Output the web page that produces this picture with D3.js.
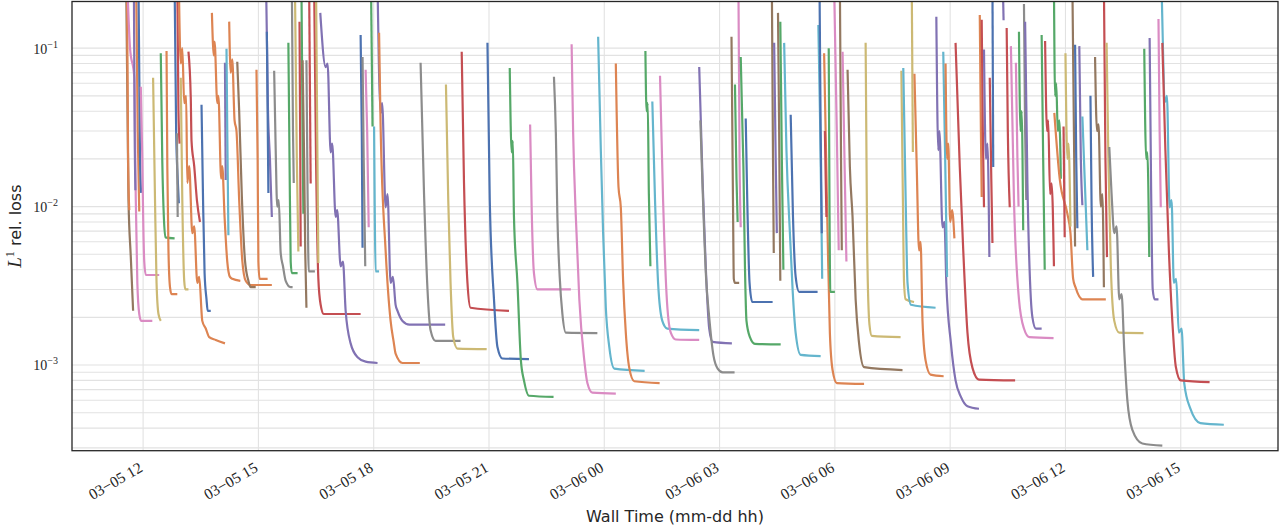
<!DOCTYPE html>
<html>
<head>
<meta charset="utf-8">
<script src="https://cdn.jsdelivr.net/npm/d3@7"></script>
<style>
  body { margin: 0; background: #fff; }
  svg { display: block; }
</style>
</head>
<body>
<svg id="chart" width="1285" height="528"></svg>
<script>
// each run: [hours since 03-05 00:00, L1 relative loss]
var blueRuns = [
  [[11.88,0.25],[11.92,0.02],[11.95,0.0122]],
  [[12.82,0.25],[12.86,0.03],[12.90,0.015],[12.93,0.0105]],
  [[13.52,0.044],[13.56,0.011],[13.60,0.0038],[13.65,0.0026],[13.68,0.0022],[13.76,0.0022]],
  [[15.22,0.127],[15.24,0.04],[15.26,0.0122]],
  [[17.66,0.121],[17.69,0.03],[17.71,0.0055]],
  [[20.96,0.108],[21.02,0.011],[21.13,0.0026],[21.22,0.0013],[21.35,0.0011],[22.04,0.00109]],
  [[27.68,0.036],[27.72,0.011],[27.78,0.0033],[27.85,0.0025],[28.38,0.0025]],
  [[28.85,0.038],[28.91,0.0086],[28.98,0.0036],[29.07,0.0029],[29.55,0.0029]],
  [[29.60,0.25],[29.63,0.03],[29.66,0.0068]],
  [[34.10,0.25],[34.12,0.0178]],
  [[36.25,0.105],[36.28,0.02],[36.31,0.0073]],
  [[36.65,0.05],[36.68,0.01],[36.72,0.0036]]
];
var orangeRuns = [
  [[11.58,0.25],[11.61,0.02],[11.64,0.0095]],
  [[11.82,0.25],[11.86,0.03],[11.90,0.0093]],
  [[12.61,0.096],[12.63,0.018],[12.66,0.0053],[12.70,0.0031],[12.74,0.0028],[12.89,0.0028]],
  [[12.93,0.25],[12.98,0.08],[13.02,0.1],[13.07,0.045],[13.12,0.05],[13.15,0.0141],[13.20,0.018],[13.28,0.0068],[13.33,0.0075],[13.41,0.0033],[13.46,0.0036],[13.54,0.0019],[13.63,0.0017],[13.72,0.0015],[13.89,0.00144],[14.13,0.00137]],
  [[13.79,0.167],[13.84,0.09],[13.86,0.11],[13.93,0.045],[13.96,0.05],[14.03,0.015],[14.06,0.018],[14.12,0.0086],[14.19,0.0045],[14.26,0.0036],[14.32,0.0035],[14.53,0.0034]],
  [[14.24,0.147],[14.28,0.07],[14.32,0.085],[14.38,0.035],[14.43,0.03],[14.50,0.011],[14.58,0.0046],[14.67,0.0034],[14.79,0.0032],[15.35,0.0032]],
  [[14.95,0.073],[14.98,0.02],[15.00,0.0045],[15.03,0.0035],[15.24,0.0035]],
  [[18.14,0.125],[18.18,0.032],[18.31,0.0053],[18.44,0.0019],[18.52,0.0014],[18.57,0.00118],[18.75,0.00103],[19.20,0.00103]],
  [[24.30,0.080],[24.37,0.0133],[24.43,0.0099],[24.49,0.0034],[24.56,0.0016],[24.65,0.00096],[24.78,0.00079],[25.44,0.00077]],
  [[29.72,0.093],[29.81,0.0068],[29.87,0.00159],[29.94,0.00093],[30.05,0.00077],[30.76,0.00076]],
  [[32.07,0.069],[32.13,0.0178],[32.19,0.0053],[32.23,0.006],[32.28,0.0019],[32.36,0.00107],[32.49,0.00087],[32.83,0.00085]],
  [[32.88,0.08],[32.92,0.02],[32.95,0.025],[33.00,0.008],[33.05,0.0095],[33.11,0.0063]],
  [[33.77,0.162],[33.80,0.03],[33.82,0.0115]],
  [[35.71,0.039],[35.85,0.015],[36.05,0.009],[36.13,0.0068],[36.20,0.0035],[36.26,0.0031],[36.44,0.0026],[37.05,0.0026]]
];
var greenRuns = [
  [[12.46,0.093],[12.50,0.019],[12.54,0.0086],[12.58,0.0064],[12.82,0.0063]],
  [[15.78,0.108],[15.81,0.02],[15.84,0.0045],[15.87,0.0038],[16.02,0.0038]],
  [[16.12,0.25],[16.15,0.028],[16.17,0.009]],
  [[17.93,0.25],[17.97,0.032]],
  [[21.54,0.075],[21.59,0.022],[21.62,0.026],[21.65,0.0086],[21.74,0.0033],[21.83,0.00107],[21.91,0.0008],[22.04,0.00064],[22.68,0.00063]],
  [[25.07,0.096],[25.10,0.04],[25.13,0.045],[25.16,0.012],[25.20,0.0042]],
  [[27.40,0.059],[27.44,0.015],[27.47,0.008]],
  [[27.55,0.088],[27.62,0.0178],[27.66,0.0042],[27.70,0.0019],[27.79,0.0015],[27.92,0.00136],[28.59,0.00135]],
  [[28.58,0.147],[28.62,0.02],[28.66,0.004]],
  [[29.84,0.1],[29.86,0.01],[29.88,0.0029],[30.00,0.0029]],
  [[34.79,0.127],[34.83,0.03],[34.86,0.04],[34.90,0.0071]],
  [[35.38,0.121],[35.42,0.02],[35.46,0.004]],
  [[35.70,0.25],[35.73,0.05],[35.76,0.06],[35.80,0.03],[35.84,0.035],[35.88,0.015]],
  [[38.05,0.099],[38.10,0.02],[38.13,0.022],[38.18,0.0048]]
];
var redRuns = [
  [[12.89,0.25],[12.92,0.04],[12.95,0.025]],
  [[13.18,0.095],[13.24,0.049],[13.26,0.026],[13.33,0.018],[13.40,0.011],[13.48,0.008]],
  [[16.07,0.147],[16.09,0.02],[16.10,0.0056]],
  [[16.32,0.25],[16.36,0.014]],
  [[16.45,0.25],[16.50,0.02],[16.56,0.0035],[16.62,0.0024],[16.70,0.0021],[17.66,0.0021]],
  [[20.29,0.095],[20.35,0.0141],[20.44,0.0033],[20.52,0.0023],[21.52,0.0022]],
  [[29.74,0.03],[29.76,0.0154],[29.78,0.0086]],
  [[33.14,0.108],[33.25,0.0178],[33.34,0.0053],[33.45,0.0016],[33.58,0.00096],[33.75,0.00081],[34.69,0.0008]],
  [[33.82,0.151],[33.85,0.03],[33.88,0.0099]],
  [[34.03,0.065],[34.07,0.015],[34.10,0.0059]],
  [[34.47,0.134],[34.50,0.03],[34.55,0.0099]],
  [[35.47,0.111],[35.52,0.03],[35.55,0.035],[35.60,0.012],[35.64,0.014],[35.70,0.0042]],
  [[35.95,0.032],[35.98,0.0064]],
  [[37.00,0.25],[37.04,0.02],[37.08,0.0048]],
  [[38.52,0.108],[38.60,0.0227],[38.69,0.0053],[38.78,0.0019],[38.87,0.00098],[39.00,0.0008],[39.75,0.00078]]
];
var purpleRuns = [
  [[11.76,0.25],[11.78,0.03],[11.80,0.0127]],
  [[14.13,0.081],[14.15,0.0147]],
  [[15.20,0.25],[15.25,0.04],[15.30,0.02],[15.35,0.0086]],
  [[16.61,0.167],[16.75,0.076],[16.80,0.08],[16.88,0.022],[16.92,0.025],[17.01,0.0086],[17.05,0.0095],[17.14,0.0042],[17.20,0.0045],[17.27,0.0022],[17.40,0.00137],[17.58,0.00112],[17.79,0.00105],[18.10,0.00103]],
  [[18.10,0.25],[18.18,0.039],[18.22,0.045],[18.31,0.0099],[18.36,0.012],[18.44,0.0033],[18.50,0.0036],[18.57,0.0024],[18.62,0.0022],[18.75,0.0019],[18.93,0.0018],[19.86,0.0018]],
  [[26.47,0.076],[26.56,0.0141],[26.64,0.0042],[26.73,0.0017],[26.82,0.0014],[27.32,0.00137]],
  [[28.42,0.108],[28.46,0.02],[28.49,0.0068]],
  [[32.64,0.158],[32.69,0.0227],[32.72,0.03],[32.80,0.0074],[32.85,0.008],[32.90,0.0033],[33.02,0.00137],[33.14,0.0008],[33.28,0.00063],[33.45,0.00055],[33.75,0.00053]],
  [[33.88,0.098],[33.93,0.02],[33.97,0.025],[34.02,0.0048]],
  [[34.37,0.25],[34.39,0.15]],
  [[34.95,0.147],[35.01,0.0141],[35.10,0.0026],[35.14,0.0020],[35.23,0.0017],[35.38,0.0017]],
  [[36.36,0.103],[36.40,0.02],[36.44,0.0102]],
  [[38.19,0.116],[38.23,0.012],[38.27,0.003],[38.32,0.0026],[38.42,0.0026]]
];
var brownRuns = [
  [[11.56,0.25],[11.60,0.03],[11.62,0.011],[11.68,0.0048],[11.74,0.0022]],
  [[14.45,0.082],[14.50,0.04],[14.57,0.0115],[14.65,0.0046],[14.74,0.0034],[14.80,0.0031],[14.93,0.0031]],
  [[16.15,0.084],[16.19,0.02],[16.22,0.005],[16.25,0.0023]],
  [[27.31,0.118],[27.35,0.01],[27.37,0.0035],[27.40,0.0033],[27.51,0.0033]],
  [[28.36,0.25],[28.39,0.02],[28.41,0.0051]],
  [[28.52,0.167],[28.55,0.03],[28.58,0.0034]],
  [[30.13,0.25],[30.16,0.02],[30.18,0.0053]],
  [[30.33,0.073],[30.39,0.0178],[30.46,0.0086],[30.54,0.0026],[30.63,0.00137],[30.76,0.00097],[31.76,0.00093]],
  [[36.18,0.25],[36.22,0.03],[36.25,0.0056]],
  [[36.77,0.088],[36.82,0.03],[36.86,0.033],[36.92,0.01],[36.96,0.012],[37.00,0.0031]]
];
var pinkRuns = [
  [[11.59,0.25],[11.66,0.1],[11.77,0.066],[11.81,0.011],[11.85,0.0033],[11.90,0.0021],[11.95,0.0019],[12.24,0.0019]],
  [[11.94,0.057],[11.98,0.02],[12.00,0.0091],[12.03,0.0045],[12.07,0.0037],[12.42,0.0037]],
  [[17.79,0.073],[17.83,0.03],[17.87,0.0074]],
  [[22.07,0.033],[22.11,0.0099],[22.17,0.0038],[22.26,0.003],[23.13,0.003]],
  [[23.15,0.106],[23.19,0.029],[23.26,0.0086],[23.35,0.0026],[23.48,0.00107],[23.56,0.00077],[23.69,0.00067],[24.30,0.00066]],
  [[25.45,0.067],[25.53,0.011],[25.62,0.0028],[25.73,0.0016],[25.86,0.00145],[26.47,0.00144]],
  [[27.49,0.25],[27.52,0.02],[27.55,0.0074]],
  [[29.98,0.25],[30.05,0.03],[30.10,0.0053]],
  [[30.20,0.095],[30.25,0.02],[30.30,0.0045]],
  [[34.58,0.103],[34.66,0.011],[34.79,0.0026],[34.92,0.0017],[35.06,0.0015],[35.69,0.00148]],
  [[34.71,0.081],[34.75,0.02],[34.78,0.01]],
  [[38.42,0.153],[38.45,0.03],[38.48,0.0099]]
];
var grayRuns = [
  [[12.88,0.029],[12.90,0.0086]],
  [[15.41,0.072],[15.45,0.023],[15.49,0.01],[15.53,0.011],[15.58,0.0051],[15.64,0.0042],[15.71,0.0034],[15.84,0.0031],[15.89,0.0031]],
  [[15.87,0.25],[15.90,0.03],[15.92,0.0141]],
  [[16.25,0.084],[16.28,0.012],[16.31,0.0039],[16.47,0.0039]],
  [[17.71,0.088],[17.74,0.02],[17.78,0.0042]],
  [[19.22,0.081],[19.31,0.012],[19.40,0.003],[19.48,0.00166],[19.61,0.00142],[20.26,0.00142]],
  [[22.69,0.066],[22.74,0.029],[22.78,0.0086],[22.84,0.0036],[22.91,0.0021],[23.00,0.0016],[23.82,0.00159]],
  [[26.50,0.035],[26.56,0.0127],[26.65,0.0035],[26.73,0.002],[26.84,0.00115],[26.95,0.00095],[27.08,0.0009],[27.39,0.0009]],
  [[34.92,0.19],[34.95,0.03],[34.98,0.011]],
  [[37.14,0.0238],[37.20,0.012],[37.27,0.0068],[37.33,0.0075],[37.40,0.0026],[37.46,0.0028],[37.53,0.00123],[37.61,0.0006],[37.74,0.00039],[38.00,0.00032],[38.52,0.00031]]
];
var yellowRuns = [
  [[12.26,0.065],[12.31,0.011],[12.35,0.0033],[12.40,0.0021],[12.46,0.0019]],
  [[12.98,0.065],[13.02,0.011],[13.07,0.0034],[13.10,0.0030],[13.18,0.0030]],
  [[15.95,0.25],[16.00,0.02],[16.04,0.0052]],
  [[16.50,0.25],[16.53,0.03],[16.56,0.0044]],
  [[19.88,0.059],[19.94,0.011],[20.00,0.0033],[20.07,0.0015],[20.18,0.00127],[20.94,0.00126]],
  [[30.80,0.108],[30.84,0.0056],[30.90,0.0018],[30.96,0.00153],[31.71,0.0015]],
  [[31.73,0.072],[31.77,0.011],[31.80,0.0033],[31.84,0.0026],[32.06,0.0025]],
  [[32.00,0.25],[32.03,0.0221]],
  [[36.00,0.093],[36.05,0.02],[36.08,0.025],[36.13,0.0075]],
  [[37.07,0.108],[37.12,0.0178],[37.18,0.0042],[37.27,0.0019],[37.40,0.0016],[38.03,0.00159]]
];
var cyanRuns = [
  [[14.17,0.099],[14.19,0.03],[14.22,0.0066]],
  [[18.01,0.032],[18.03,0.008],[18.05,0.0039],[18.14,0.0039]],
  [[23.84,0.118],[23.91,0.0227],[23.97,0.0068],[24.04,0.0023],[24.13,0.0013],[24.26,0.00095],[25.05,0.00092]],
  [[25.25,0.046],[25.32,0.011],[25.40,0.0033],[25.51,0.0019],[25.64,0.0017],[26.47,0.00166]],
  [[28.68,0.108],[28.74,0.0227],[28.83,0.0068],[28.90,0.003],[28.98,0.00159],[29.11,0.00116],[29.63,0.00114]],
  [[29.57,0.14],[29.62,0.03],[29.67,0.0035]],
  [[31.78,0.075],[31.85,0.0086],[31.89,0.0033],[31.98,0.0024],[32.62,0.0023]],
  [[32.82,0.095],[32.87,0.02],[32.92,0.0036]],
  [[36.44,0.037],[36.50,0.015],[36.57,0.0053]],
  [[38.50,0.25],[38.60,0.046],[38.64,0.05],[38.71,0.0099],[38.76,0.011],[38.82,0.0033],[38.88,0.0035],[38.95,0.0016],[39.02,0.0017],[39.09,0.00077],[39.25,0.00053],[39.51,0.00043],[40.12,0.00042]]
];

var xTickHours = [12, 15, 18, 21, 24, 27, 30, 33, 36, 39];
var xTickLabels = ["03\u221205 12", "03\u221205 15", "03\u221205 18", "03\u221205 21", "03\u221206 00",
                   "03\u221206 03", "03\u221206 06", "03\u221206 09", "03\u221206 12", "03\u221206 15"];
var yTickValues = [1e-3, 1e-2, 1e-1];
var yTickExponents = ["\u22123", "\u22122", "\u22121"];

var colorGroups = [
  ["#4C72B0", blueRuns], ["#DD8452", orangeRuns], ["#55A868", greenRuns],
  ["#C44E52", redRuns], ["#8172B3", purpleRuns], ["#937860", brownRuns],
  ["#DA8BC3", pinkRuns], ["#8C8C8C", grayRuns], ["#CCB974", yellowRuns],
  ["#64B5CD", cyanRuns]
];

var svg = d3.select("#chart");
var plotL = 72, plotR = 1278, plotT = 1.5, plotB = 450.7;

var t0 = new Date(2024, 2, 5, 0, 0);
function toTime(h) { return new Date(t0.getTime() + h * 3600000); }

var x = d3.scaleTime()
    .domain([toTime(10.15), toTime(41.53)])
    .range([plotL, plotR]);
var y = d3.scaleLog()
    .domain([2.88e-4, 0.197])
    .range([plotB, plotT]);

svg.append("defs").append("clipPath").attr("id", "plotclip")
  .append("rect")
    .attr("x", plotL).attr("y", plotT)
    .attr("width", plotR - plotL).attr("height", plotB - plotT);

// grid: every 1..9 x 10^k horizontally, major ticks vertically
var gridVals = [];
[1e-4, 1e-3, 1e-2, 1e-1].forEach(function(d) {
  for (var k = 1; k <= 9; k++) {
    var v = d * k;
    if (v >= y.domain()[0] && v <= y.domain()[1]) gridVals.push(v);
  }
});
var grid = svg.append("g");
grid.selectAll(".hg").data(gridVals).enter().append("line")
    .attr("x1", plotL).attr("x2", plotR)
    .attr("y1", function(d) { return y(d); })
    .attr("y2", function(d) { return y(d); })
    .attr("stroke", "#e2e2e2").attr("stroke-width", 1.1);
grid.selectAll(".vg").data(xTickHours).enter().append("line")
    .attr("x1", function(d) { return x(toTime(d)); })
    .attr("x2", function(d) { return x(toTime(d)); })
    .attr("y1", plotT).attr("y2", plotB)
    .attr("stroke", "#e2e2e2").attr("stroke-width", 1.1);

// runs, drawn in order of start time
var allRuns = [];
colorGroups.forEach(function(g) {
  g[1].forEach(function(r) { allRuns.push({ color: g[0], pts: r }); });
});
allRuns.sort(function(a, b) { return a.pts[0][0] - b.pts[0][0]; });

var line = d3.line()
    .x(function(d) { return x(toTime(d[0])); })
    .y(function(d) { return y(d[1]); })
    .curve(d3.curveMonotoneX);

svg.append("g").attr("clip-path", "url(#plotclip)")
  .selectAll("path").data(allRuns).enter().append("path")
    .attr("d", function(d) { return line(d.pts); })
    .attr("fill", "none")
    .attr("stroke", function(d) { return d.color; })
    .attr("stroke-width", 2.2)
    .attr("stroke-linejoin", "round");

// frame
svg.append("rect")
    .attr("x", plotL).attr("y", plotT)
    .attr("width", plotR - plotL).attr("height", plotB - plotT)
    .attr("fill", "none").attr("stroke", "#262626").attr("stroke-width", 1.3);

// x axis
var xAxis = d3.axisBottom(x)
    .tickValues(xTickHours.map(toTime))
    .tickSize(0)
    .tickFormat(function(d, i) { return xTickLabels[i]; });
var gx = svg.append("g").attr("transform", "translate(0," + plotB + ")").call(xAxis);
gx.select(".domain").remove();
gx.selectAll("text")
    .attr("x", 0).attr("y", 0).attr("dy", 0)
    .attr("transform", "translate(0,20) rotate(-30)")
    .attr("text-anchor", "end")
    .attr("font-family", "'Liberation Serif', 'DejaVu Serif', serif")
    .attr("font-size", 15.5)
    .attr("fill", "#262626");

// y axis
var yAxis = d3.axisLeft(y).tickValues(yTickValues).tickSize(0).tickFormat("");
var gy = svg.append("g").attr("transform", "translate(" + plotL + ",0)").call(yAxis);
gy.select(".domain").remove();
gy.selectAll(".tick").each(function(d) {
  var t = d3.select(this).append("text")
      .attr("x", -14).attr("dy", "0.35em")
      .attr("text-anchor", "end")
      .attr("fill", "#262626")
      .attr("font-family", "'Liberation Serif', 'DejaVu Serif', serif")
      .attr("font-size", 14);
  t.append("tspan").text("10");
  t.append("tspan").attr("dy", -6).attr("font-size", 10).text(yTickExponents[yTickValues.indexOf(d)]);
});

// axis titles
svg.append("text")
    .attr("x", (plotL + plotR) / 2).attr("y", 522)
    .attr("text-anchor", "middle")
    .attr("font-family", "'DejaVu Sans', sans-serif")
    .attr("font-size", 16)
    .attr("fill", "#262626")
    .text("Wall Time (mm-dd hh)");

var yl = svg.append("text")
    .attr("transform", "translate(21," + ((plotT + plotB) / 2) + ") rotate(-90)")
    .attr("text-anchor", "middle")
    .attr("fill", "#262626")
    .attr("font-size", 16);
yl.append("tspan").attr("font-family", "'Liberation Serif', serif").attr("font-style", "italic").attr("font-size", 19).text("L");
yl.append("tspan").attr("font-family", "'Liberation Serif', serif").attr("font-size", 12).attr("dy", -7).text("1");
yl.append("tspan").attr("font-family", "'DejaVu Sans', sans-serif").attr("dy", 7).text(" rel. loss");
</script>
</body>
</html>
